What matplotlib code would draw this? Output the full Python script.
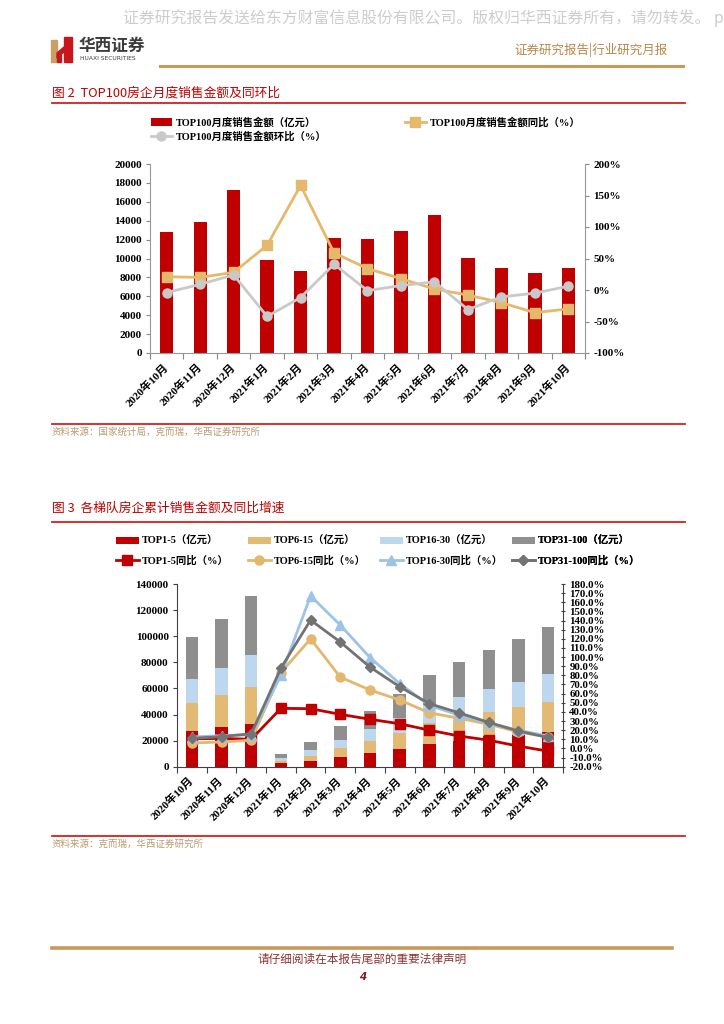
import matplotlib
matplotlib.use('Agg')
import matplotlib.pyplot as plt
from matplotlib.patches import Rectangle, Polygon
from matplotlib.lines import Line2D
from matplotlib.font_manager import FontProperties
import numpy as np

# ---------------- data ----------------
months = ['2020年10月', '2020年11月', '2020年12月', '2021年1月', '2021年2月', '2021年3月',
          '2021年4月', '2021年5月', '2021年6月', '2021年7月', '2021年8月', '2021年9月', '2021年10月']

# Figure 2
top100_sales = [12850, 13900, 17200, 9860, 8700, 12200, 12100, 12950, 14600, 10070, 9000, 8500, 9000]
top100_yoy = [21, 20, 28, 71, 166, 59, 34, 18, 1.6, -8, -20, -36, -30]
top100_mom = [-4, 9, 24, -42, -12, 41, -1, 7, 13, -31, -11, -5, 6]

# Figure 3
top1_5 = [27500, 30500, 32700, 2700, 4600, 7700, 10700, 13500, 17300, 19800, 23500, 24600, 26300]
top6_15 = [21300, 24200, 28000, 1900, 3800, 6600, 9200, 12500, 16100, 16000, 18500, 21400, 23500]
top16_30 = [18400, 21000, 24900, 2000, 4200, 6100, 8700, 11100, 13900, 17500, 17400, 19000, 21200]
top31_100 = [32400, 37700, 45200, 3300, 6100, 10800, 14300, 18600, 23300, 27200, 30100, 33000, 36000]

yoy1_5 = [10.5, 11, 10, 43.9, 43.5, 37.3, 31.9, 27, 20, 13.6, 9, 2.5, -3]
yoy6_15 = [6, 7, 9, 83, 120, 78, 64, 53, 39, 33, 26.5, 18, 12.5]
yoy16_30 = [12.5, 14, 15, 80, 167, 135, 99.5, 71, 47, 36.5, 27.5, 20, 13.5]
yoy31_100 = [11, 13, 16, 88, 140.5, 116.5, 89, 67.5, 49, 39, 28.5, 19, 12]

leg1_labels = ['TOP100月度销售金额（亿元）', 'TOP100月度销售金额环比（%）', 'TOP100月度销售金额同比（%）']
leg2_bar_labels = ['TOP1-5（亿元）', 'TOP6-15（亿元）', 'TOP16-30（亿元）', 'TOP31-100（亿元）']
leg2_line_labels = ['TOP1-5同比（%）', 'TOP6-15同比（%）', 'TOP16-30同比（%）', 'TOP31-100同比（%）']

# ---------------- setup ----------------
W, H = 724, 1024
fig = plt.figure(figsize=(W / 100, H / 100), dpi=100)
fig.patch.set_facecolor('white')

CJK = ['Noto Sans CJK SC', 'DejaVu Sans']
SERIF = ['Liberation Serif', 'Noto Sans CJK SC']


def fx(x):
    return x / W


def fy(y):
    return 1 - y / H


def hline(y, x0, x1, color, lw):
    fig.add_artist(Line2D([fx(x0), fx(x1)], [fy(y), fy(y)], color=color, lw=lw,
                          transform=fig.transFigure))


def style_ticklabels(labels, size=8):
    for t in labels:
        t.set_fontfamily(SERIF)
        t.set_fontweight('bold')
        t.set_fontsize(size)
        t.set_color('black')


# ---------------- page header ----------------
fig.text(fx(123), fy(18), '证券研究报告发送给东方财富信息股份有限公司。版权归华西证券所有，请勿转发。 p',
         color='#cdcdcd', fontsize=11.4, family=CJK, va='center', ha='left')

# logo
fig.add_artist(Rectangle((fx(51), fy(62)), fx(6), (62 - 40) / H, color='#C9A063',
                         transform=fig.transFigure))
fig.add_artist(Rectangle((fx(64), fy(62)), fx(8), (62 - 37) / H, color='#C8161D',
                         transform=fig.transFigure))
fig.add_artist(Polygon([(fx(57), fy(53)), (fx(64), fy(47)), (fx(64), fy(52)), (fx(57), fy(58))],
                       closed=True, color='#C8161D', transform=fig.transFigure))
fig.add_artist(Rectangle((fx(57), fy(62)), fx(4), (62 - 55) / H, color='#C8161D',
                         transform=fig.transFigure))
fig.text(fx(79), fy(46), '华西证券', fontsize=12, fontweight='bold', family=CJK,
         color='#3b3b3b', va='center', ha='left')
fig.text(fx(80), fy(59), 'HUAXI SECURITIES', fontsize=4.3, family=['DejaVu Sans'],
         color='#3b3b3b', va='center', ha='left')
fig.text(fx(668), fy(50), '证券研究报告|行业研究月报', color='#B8874A', fontsize=9,
         family=CJK, va='center', ha='right')
hline(66, 160, 683, '#C59A5A', 2.2)

# ---------------- Figure 2 ----------------
fig.text(fx(52), fy(93), '图 2  TOP100房企月度销售金额及同环比', color='#C00000', fontsize=9.2,
         family=CJK, va='center', ha='left')
hline(103, 52, 685, '#D42020', 1.3)

x = np.arange(len(months))
ax1 = fig.add_axes([fx(150), fy(353), 435 / W, 189 / H])
bars1 = ax1.bar(x, top100_sales, width=0.4, color='#C00000', zorder=2)
ax1.set_xlim(-0.5, 12.5)
ax1.set_ylim(0, 20000)
ax1.set_yticks(np.arange(0, 20001, 2000))
ax1.set_xticks(np.arange(-0.5, 13, 1))
ax1.set_xticklabels([])
ax1.set_xticks(x, minor=True)
ax1.set_xticklabels(months, minor=True, rotation=45, ha='right', va='center', rotation_mode='anchor')
ax1.tick_params(axis='x', which='minor', length=0, pad=9)
ax1.tick_params(axis='x', which='major', length=4, color='#888888', direction='out')
ax1.tick_params(axis='y', length=3, color='#888888', pad=3)
style_ticklabels(ax1.get_yticklabels(), 8)
style_ticklabels(ax1.get_xticklabels(minor=True), 8)
for s in ['top', 'right']:
    ax1.spines[s].set_visible(False)
for s in ['left', 'bottom']:
    ax1.spines[s].set_color('#999999')

ax2 = ax1.twinx()
l_yoy, = ax2.plot(x, top100_yoy, color='#E5B96C', lw=2, marker='s', ms=6.5, zorder=3)
l_mom, = ax2.plot(x, top100_mom, color='#C9C9C9', lw=2, marker='o', ms=6.5, zorder=4)
ax2.set_ylim(-100, 200)
ax2.set_yticks(np.arange(-100, 201, 50))
ax2.set_yticklabels([f'{v}%' for v in range(-100, 201, 50)])
style_ticklabels(ax2.get_yticklabels(), 8)
ax2.tick_params(axis='y', length=3, color='#888888', pad=3)
for s in ['top', 'left', 'bottom']:
    ax2.spines[s].set_visible(False)
ax2.spines['right'].set_color('#999999')

legprop = FontProperties(family=SERIF, weight='bold', size=7.5)
lg = ax1.legend([bars1, l_mom], leg1_labels[:2], loc='upper left',
                bbox_to_anchor=(fx(151), fy(117)), bbox_transform=fig.transFigure,
                frameon=False, prop=legprop, handlelength=2.0, handletextpad=0.35,
                labelspacing=0.35, borderpad=0, borderaxespad=0)
ax1.add_artist(lg)
ax1.legend([l_yoy], leg1_labels[2:], loc='upper left',
           bbox_to_anchor=(fx(405), fy(117)), bbox_transform=fig.transFigure,
           frameon=False, prop=legprop, handlelength=2.0, handletextpad=0.35,
           labelspacing=0.35, borderpad=0, borderaxespad=0)

hline(424, 52, 685, '#D42020', 1.3)
fig.text(fx(52), fy(432), '资料来源：国家统计局，克而瑞，华西证券研究所', color='#B89A70', fontsize=6.8,
         family=CJK, va='center', ha='left')

# ---------------- Figure 3 ----------------
fig.text(fx(52), fy(508), '图 3  各梯队房企累计销售金额及同比增速', color='#C00000', fontsize=9.2,
         family=CJK, va='center', ha='left')
hline(522, 52, 685, '#D42020', 1.3)

ax3 = fig.add_axes([fx(177), fy(766.7), 386 / W, 182.7 / H])
bw = 0.42
b1 = np.array(top1_5)
b2 = np.array(top6_15)
b3 = np.array(top16_30)
b4 = np.array(top31_100)
hb1 = ax3.bar(x, b1, width=bw, color='#C00000', zorder=2)
hb2 = ax3.bar(x, b2, width=bw, bottom=b1, color='#E2BA73', zorder=2)
hb3 = ax3.bar(x, b3, width=bw, bottom=b1 + b2, color='#BDD7EE', zorder=2)
hb4 = ax3.bar(x, b4, width=bw, bottom=b1 + b2 + b3, color='#8F8F8F', zorder=2)
ax3.set_xlim(-0.5, 12.5)
ax3.set_ylim(0, 140000)
ax3.set_yticks(np.arange(0, 140001, 20000))
ax3.set_xticks(np.arange(-0.5, 13, 1))
ax3.set_xticklabels([])
ax3.set_xticks(x, minor=True)
ax3.set_xticklabels(months, minor=True, rotation=45, ha='right', va='center', rotation_mode='anchor')
ax3.tick_params(axis='x', which='minor', length=0, pad=9)
ax3.tick_params(axis='x', which='major', length=4, color='#404040', direction='out')
ax3.tick_params(axis='y', length=3, color='#404040', pad=3)
style_ticklabels(ax3.get_yticklabels(), 8)
style_ticklabels(ax3.get_xticklabels(minor=True), 8)
for s in ['top', 'right']:
    ax3.spines[s].set_visible(False)
for s in ['left', 'bottom']:
    ax3.spines[s].set_color('#404040')

ax4 = ax3.twinx()
hl1, = ax4.plot(x, yoy1_5, color='#C00000', lw=2, marker='s', ms=6.5, zorder=3)
hl2, = ax4.plot(x, yoy6_15, color='#E3B86E', lw=2, marker='o', ms=6.5, zorder=4)
hl3, = ax4.plot(x, yoy16_30, color='#9DC3E6', lw=2, marker='^', ms=7, zorder=5)
hl4, = ax4.plot(x, yoy31_100, color='#737373', lw=2, marker='D', ms=5.5, zorder=6)
ax4.set_ylim(-20, 180)
ax4.set_yticks(np.arange(-20, 181, 10))
ax4.set_yticklabels([f'{v:.1f}%' for v in range(-20, 181, 10)])
style_ticklabels(ax4.get_yticklabels(), 7.8)
ax4.tick_params(axis='y', length=3, color='#404040', pad=3, direction='inout')
for s in ['top', 'left', 'bottom']:
    ax4.spines[s].set_visible(False)
ax4.spines['right'].set_color('#404040')

legprop2 = FontProperties(family=SERIF, weight='bold', size=7.5)
bar_handles = [hb1, hb2, hb3, hb4]
line_handles = [hl1, hl2, hl3, hl4]
leg_x = [116, 248, 380, 512]
for i in range(4):
    lg = ax3.legend([bar_handles[i], line_handles[i]], [leg2_bar_labels[i], leg2_line_labels[i]],
                    loc='upper left', bbox_to_anchor=(fx(leg_x[i]), fy(536)),
                    bbox_transform=fig.transFigure, frameon=False, prop=legprop2,
                    handlelength=2.2, handletextpad=0.3, labelspacing=0.85,
                    borderpad=0, borderaxespad=0)
    ax3.add_artist(lg)

hline(836, 52, 685, '#D42020', 1.3)
fig.text(fx(52), fy(844), '资料来源：克而瑞，华西证券研究所', color='#B89A70', fontsize=6.8,
         family=CJK, va='center', ha='left')

# ---------------- footer ----------------
hline(948, 52, 672, '#C8995A', 2.6)
fig.text(fx(362), fy(959), '请仔细阅读在本报告尾部的重要法律声明', color='#8A3232', fontsize=8.4,
         family=CJK, va='center', ha='center')
fig.text(fx(363), fy(977), '4', color='#7A1F1F', fontsize=7.5, fontweight='bold',
         family=['DejaVu Sans'], va='center', ha='center', style='italic')

fig.savefig('out.png', dpi=100, facecolor='white')
